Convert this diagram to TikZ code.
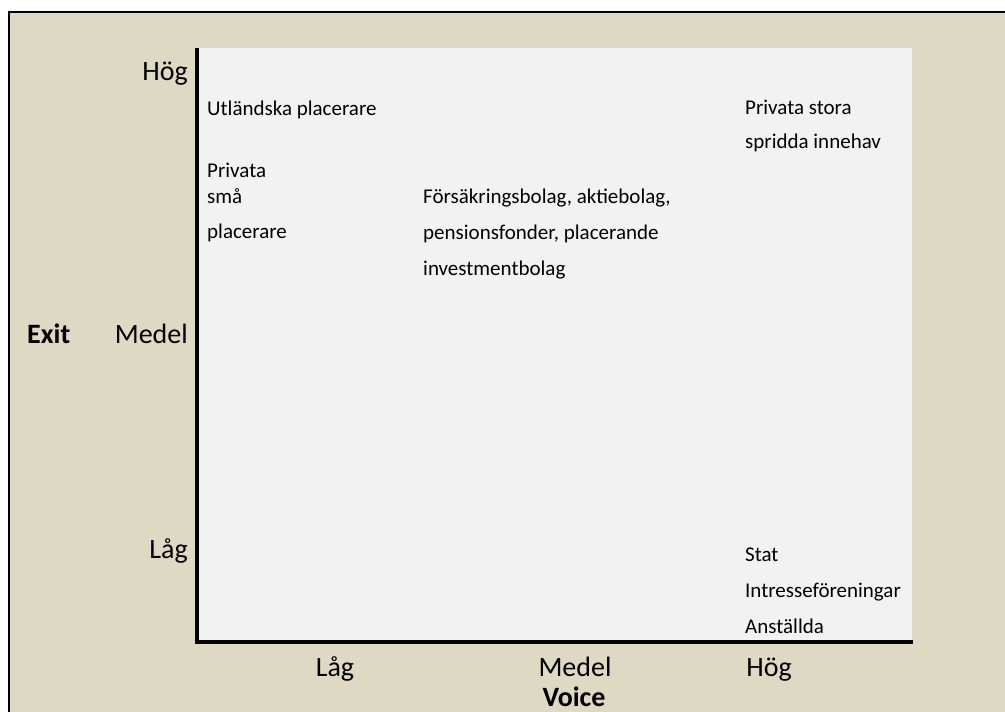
\documentclass[tikz,border=0pt]{standalone}
\usepackage{fontspec}
\setmainfont{Carlito}
\definecolor{tanpaper}{HTML}{DDD9C3}
\definecolor{plotgray}{HTML}{F2F2F2}

\begin{document}
\begin{tikzpicture}[x=1pt, y=-1pt,
    axistext/.style={font=\fontsize{28}{34}\selectfont, inner sep=0pt},
    celltext/.style={font=\fontsize{21}{36}\selectfont, inner sep=0pt, align=left, anchor=base west}]
  \useasboundingbox (0,0) rectangle (1005,712);

  \fill[tanpaper] (9,12) rectangle (1005,712);
  \draw[line width=2pt] (9,712) -- (9,12) -- (1005,12);

  \fill[plotgray] (197,48) rectangle (912,642);
  \draw[line width=4pt] (197,48) -- (197,642) -- (913,642);

  \node[axistext, anchor=base east] (yhigh) at (188,80) {Hög};
  \node[axistext, anchor=base east] (ymid) at (188,343) {Medel};
  \node[axistext, anchor=base east] (ylow) at (188,558) {Låg};
  \node[axistext, anchor=base west, font=\fontsize{28}{34}\selectfont\bfseries] (exit) at (27,343) {Exit};

  \node[axistext, anchor=base] (xlow) at (335,676) {Låg};
  \node[axistext, anchor=base] (xmid) at (575,676) {Medel};
  \node[axistext, anchor=base] (xhigh) at (769,676) {Hög};
  \node[axistext, anchor=base, font=\fontsize{28}{34}\selectfont\bfseries] (voice) at (574,706) {Voice};

  \node[celltext] (foreign) at (207,115) {Utländska placerare};
  \node[celltext, font=\fontsize{21}{26}\selectfont] (smallpriv) at (207,238) {Privata\\små\\[9pt]placerare};
  \node[celltext] (institutions) at (423,275) {Försäkringsbolag, aktiebolag,\\pensionsfonder, placerande\\investmentbolag};
  \node[celltext, font=\fontsize{21}{34}\selectfont] (largepriv) at (745,148) {Privata stora\\spridda innehav};
  \node[celltext] (stakeholders) at (745,633) {Stat\\Intresseföreningar\\Anställda};
\end{tikzpicture}
\end{document}
